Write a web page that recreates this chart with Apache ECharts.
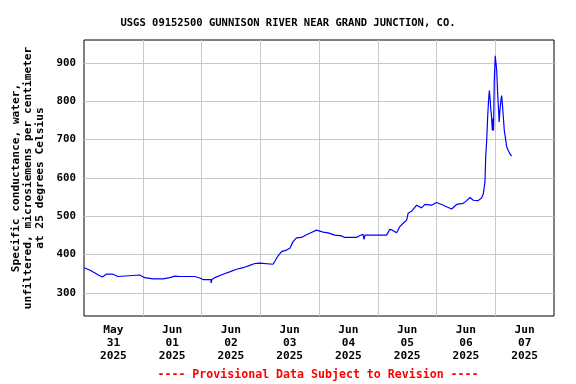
<!DOCTYPE html>
<html>
<head>
<meta charset="utf-8">
<script src="https://cdn.jsdelivr.net/npm/echarts@6/dist/echarts.min.js"></script>
<style>html,body{margin:0;padding:0;background:#fff}#c{width:576px;height:384px}</style>
</head>
<body>
<div id="c"></div>
<script>
// hours since 2025-05-31 00:00
var hours = [
  0, 2.3, 4.3, 6.4, 7.5, 9.1, 11.8, 13.9, 14.6, 22.7,
  24.8, 28.2, 32.3, 35, 37.1, 39.1, 42.4, 43.2, 45.2, 47.3,
  48.6, 51.8, 52, 52.2, 53.4, 56.8, 59.5, 62.3, 65, 67.7,
  69.8, 71.8, 72.5, 77.2, 77.9, 79.3, 80.7, 82.7, 84.1, 85.4,
  86.8, 88.8, 90.9, 92.9, 95, 97.7, 99.7, 102.5, 105.2, 106.5,
  111.3, 112.7, 114, 114.4, 114.8, 115.4, 123.6, 124.9, 126, 127.7,
  129, 130.4, 131.8, 132.4, 133.8, 135.9, 137.9, 139.3, 142, 144,
  146.1, 148.1, 150.2, 152.2, 154.9, 156, 157.7, 159, 161, 162.4,
  163.1, 163.8, 164.1, 164.5, 164.9, 165.3, 165.6, 165.9, 166.1, 166.5,
  166.8, 167.1, 167.3, 167.6, 168, 168.3, 168.6, 169, 169.4, 169.6,
  169.9, 170.3, 170.6, 170.9, 171.3, 171.7, 172.3, 172.7, 173.3, 174, 174.7
];
var conductance = [
  366, 360, 353, 345, 342, 349, 349, 343, 347, 347,
  340, 337, 337, 340, 344, 343, 343, 344, 343, 339,
  335, 335, 326, 335, 340, 349, 355, 362, 366, 372,
  377, 378, 375, 375, 382, 397, 408, 412, 417, 434,
  444, 445, 452, 458, 464, 459, 457, 451, 449, 445,
  445, 450, 453, 440, 451, 451, 451, 466, 464, 457,
  473, 482, 490, 508, 513, 529, 522, 531, 529, 536,
  531, 525, 519, 531, 534, 539, 549, 542, 541, 548,
  558, 590, 655, 698, 759, 806, 828, 806, 785, 759,
  724, 755, 724, 854, 919, 919, 880, 819, 772, 746,
  776, 802, 815, 794, 759, 724, 698, 681, 672, 663, 657
];
var dayBoundaries = [24, 48, 72, 96, 120, 144, 168];
var labelHours = [12, 36, 60, 84, 108, 132, 156, 180];
var tickLabels = ['May\n31\n2025', 'Jun\n01\n2025', 'Jun\n02\n2025', 'Jun\n03\n2025',
                  'Jun\n04\n2025', 'Jun\n05\n2025', 'Jun\n06\n2025', 'Jun\n07\n2025'];
var yTicks = [300, 400, 500, 600, 700, 800, 900];

var FONT = 'DejaVu Sans Mono';
var data = hours.map(function (h, i) { return [h, conductance[i]]; });

var chart = echarts.init(document.getElementById('c'), null, {renderer: 'canvas'});
chart.setOption({
  animation: false,
  backgroundColor: '#ffffff',
  title: {
    text: 'USGS 09152500 GUNNISON RIVER NEAR GRAND JUNCTION, CO.',
    left: 'center', top: 13,
    textStyle: {fontFamily: FONT, fontWeight: 'bold', fontSize: 10.5, color: '#000'}
  },
  grid: {left: 84, right: 22, top: 40, bottom: 68, containLabel: false, outerBoundsMode: 'none',
         show: true, borderColor: '#000', borderWidth: 1, backgroundColor: 'transparent'},
  xAxis: {
    type: 'value', min: 0, max: 192,
    axisLine: {show: false},
    axisTick: {show: false, customValues: dayBoundaries},
    splitLine: {show: true, lineStyle: {color: '#c8c8c8', width: 1}},
    axisLabel: {
      customValues: labelHours, margin: 8,
      fontFamily: FONT, fontWeight: 'bold', fontSize: 11.2, lineHeight: 12.8, color: '#000',
      formatter: function (v) { return tickLabels[Math.round((v - 12) / 24)]; }
    }
  },
  yAxis: {
    type: 'value', min: 240, max: 960,
    axisLine: {show: false},
    axisTick: {show: false, customValues: yTicks},
    splitLine: {show: true, lineStyle: {color: '#c8c8c8', width: 1}},
    axisLabel: {customValues: yTicks, margin: 8, fontFamily: FONT, fontWeight: 'bold', fontSize: 10.8, color: '#000'},
    name: 'Specific conductance, water,\nunfiltered, microsiemens per centimeter\nat 25 degrees Celsius',
    nameLocation: 'middle', nameRotate: 90, nameGap: 37,
    nameTextStyle: {fontFamily: FONT, fontWeight: 'bold', fontSize: 11.2, lineHeight: 12, color: '#000'}
  },
  graphic: [{
    type: 'text',
    style: {
      x: 318, y: 375, text: '---- Provisional Data Subject to Revision ----',
      align: 'center', verticalAlign: 'middle',
      font: 'bold 11.6px "DejaVu Sans Mono"', fill: '#ff0000'
    }
  }],
  series: [{
    type: 'line', data: data, showSymbol: false, symbol: 'none',
    lineStyle: {color: '#0000ff', width: 1.2}, z: 3
  }]
});
</script>
</body>
</html>
